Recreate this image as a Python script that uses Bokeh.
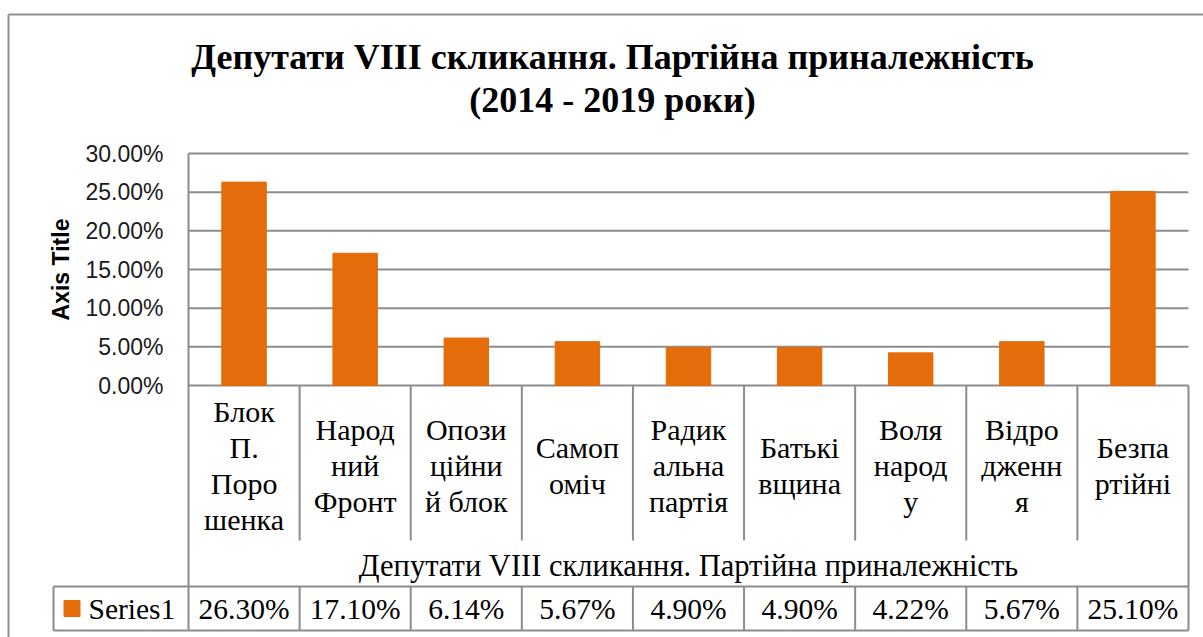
import math
from bokeh.plotting import figure
from bokeh.models import Range1d
from bokeh.core.properties import value
from bokeh.embed import file_html
from bokeh.resources import INLINE

# ---------------- data ----------------
categories = ["Блок П. Порошенка", "Народний Фронт", "Опозиційний блок", "Самопоміч",
              "Радикальна партія", "Батьківщина", "Воля народу", "Відродження", "Безпартійні"]
category_labels = ["Блок\nП.\nПоро\nшенка", "Народ\nний\nФронт", "Опози\nційни\nй блок",
                   "Самоп\nоміч", "Радик\nальна\nпартія", "Батькі\nвщина", "Воля\nнарод\nу",
                   "Відро\nдженн\nя", "Безпа\nртійні"]
values = [0.263, 0.171, 0.0614, 0.0567, 0.049, 0.049, 0.0422, 0.0567, 0.251]
value_labels = ["26.30%", "17.10%", "6.14%", "5.67%", "4.90%", "4.90%", "4.22%", "5.67%", "25.10%"]
y_ticks = [0.0, 0.05, 0.10, 0.15, 0.20, 0.25, 0.30]
series_name = "Series1"
title_lines = ["Депутати VIII скликання. Партійна приналежність", "(2014 - 2019 роки)"]
group_label = "Депутати VIII скликання. Партійна приналежність"
y_axis_title = "Axis Title"

# ---------------- layout (page pixels; figure sits at 0,0) ----------------
W, H = 1203, 637
PLOT_L, PLOT_R, PLOT_T, PLOT_B = 188, 1188, 153, 385
N = len(categories)
CW = (PLOT_R - PLOT_L) / N
YMAX = y_ticks[-1]
YS = (PLOT_B - PLOT_T) / YMAX

def X(px):
    return (px - PLOT_L) / CW

def Y(py):
    return (PLOT_B - py) / YS

CAT_B = 540
ROW_T = 586
ROW_B = 630
LEG_L = 53

ORANGE = "#E46C0A"
GRID = "#8c8c8c"
SERIF = value("Liberation Serif")
SANS = value("Liberation Sans")

p = figure(width=W, height=H, output_backend="svg", toolbar_location=None,
           x_axis_type=None, y_axis_type=None, min_border=0,
           x_range=Range1d(X(0), X(W)), y_range=Range1d(Y(H), Y(0)))
p.outline_line_color = None
p.background_fill_color = "white"
p.border_fill_color = "white"

# outer chart border
p.segment(x0=[X(8), X(8)], y0=[Y(14), Y(14)], x1=[X(W), X(8)], y1=[Y(14), Y(H)],
          line_color="#8f8f8f", line_width=2)

# gridlines
p.segment(x0=[0] * len(y_ticks), y0=y_ticks, x1=[N] * len(y_ticks), y1=y_ticks,
          line_color=GRID, line_width=2)

# bars
p.vbar(x=[i + 0.5 for i in range(N)], top=values, bottom=0, width=0.4,
       fill_color=ORANGE, line_color=ORANGE)

# table lines
xs0, ys0, xs1, ys1 = [], [], [], []
xs0 += [0]; ys0 += [YMAX]; xs1 += [0]; ys1 += [Y(ROW_B)]
xs0 += [N]; ys0 += [0]; xs1 += [N]; ys1 += [Y(ROW_B)]
for i in range(1, N):
    xs0 += [i, i]; ys0 += [0, Y(ROW_T)]; xs1 += [i, i]; ys1 += [Y(CAT_B), Y(ROW_B)]
xs0 += [X(LEG_L), X(LEG_L)]; ys0 += [Y(ROW_T), Y(ROW_B)]
xs1 += [N, N]; ys1 += [Y(ROW_T), Y(ROW_B)]
xs0 += [X(LEG_L)]; ys0 += [Y(ROW_T)]; xs1 += [X(LEG_L)]; ys1 += [Y(ROW_B)]
p.segment(x0=xs0, y0=ys0, x1=xs1, y1=ys1, line_color=GRID, line_width=2)

# title
p.text(x=[X(612), X(612)], y=[Y(56), Y(99)], text=title_lines,
       text_font=SERIF, text_font_style="bold", text_font_size="36px",
       text_align="center", text_baseline="middle", text_color="black")

# y tick labels
p.text(x=[X(163)] * len(y_ticks), y=y_ticks, text=["{:.2%}".format(t) for t in y_ticks],
       text_font=SANS, text_font_size="23px", text_align="right",
       text_baseline="middle", text_color="#1a1a1a")

# y axis title
p.text(x=[X(60)], y=[Y(269)], text=[y_axis_title], angle=math.pi / 2,
       text_font=SANS, text_font_style="bold", text_font_size="23px",
       text_align="center", text_baseline="middle", text_color="black")

# category labels
p.text(x=[i + 0.5 for i in range(N)], y=[Y(465)] * N, text=category_labels,
       text_font=SERIF, text_font_size="30px", text_align="center",
       text_baseline="middle", text_line_height=1.1, text_color="black")

# group label
p.text(x=[N / 2], y=[Y(565)], text=[group_label], text_font=SERIF,
       text_font_size="30.5px", text_align="center", text_baseline="middle",
       text_color="black")

# values row
p.text(x=[i + 0.5 for i in range(N)], y=[Y(608)] * N, text=value_labels,
       text_font=SERIF, text_font_size="29.5px", text_align="center",
       text_baseline="middle", text_color="black")

# legend key
p.scatter(x=[X(71.5)], y=[Y(608)], marker="square", size=16,
          fill_color=ORANGE, line_color=ORANGE)
p.text(x=[X(88)], y=[Y(608)], text=[series_name], text_font=SERIF,
       text_font_size="29.5px", text_align="left", text_baseline="middle",
       text_color="black")

open("out.html", "w").write(file_html(p, INLINE))
